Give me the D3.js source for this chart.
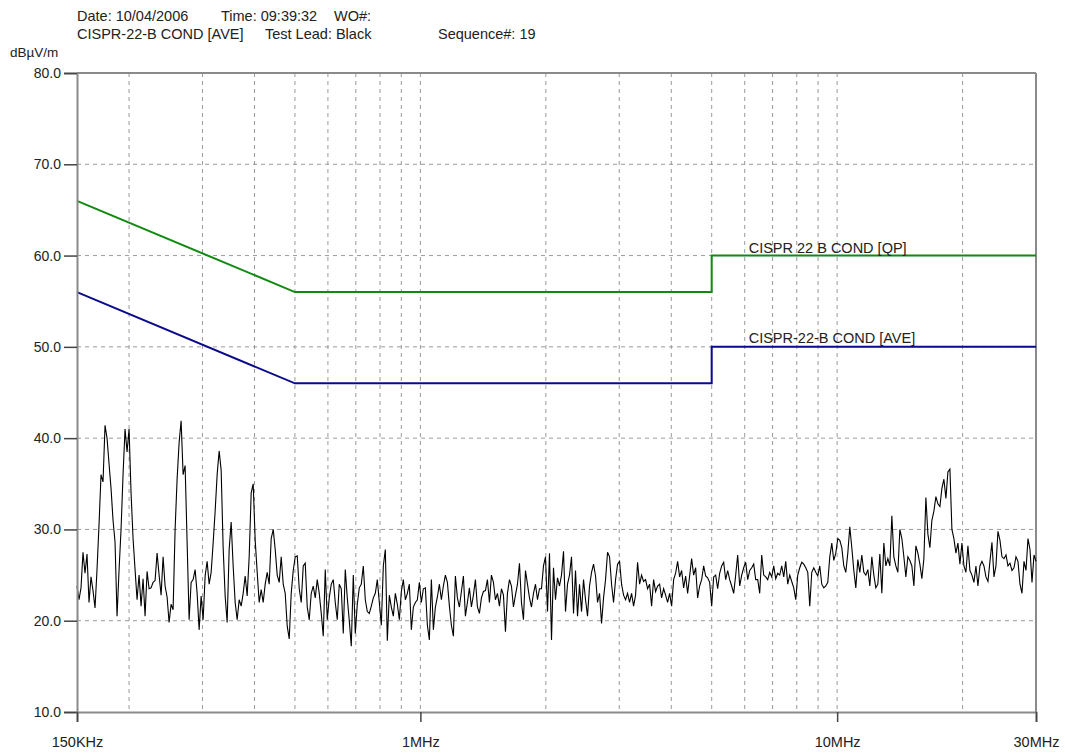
<!DOCTYPE html>
<html>
<head>
<meta charset="utf-8">
<script src="https://cdn.jsdelivr.net/npm/d3@7"></script>
<style>
  html, body { margin: 0; padding: 0; background: #fff; }
  svg { display: block; }
  text { font-family: "Liberation Sans", Arial, sans-serif; fill: #222; }
</style>
</head>
<body>
<svg id="chart" width="1065" height="753"></svg>
<script>
// Sweep settings of the receiver scan (Hz)
const sweepStart = 150e3;
const sweepStop = 30e6;

// Measured average-detector level per sweep point (dBµV)
const traceDb = [
  23.8,22.3,23.6,27.5,25.2,27.3,22.0,24.8,23.3,21.4,25.6,30.5,36.0,35.2,41.4,40.0,37.2,34.5,31.0,28.6,
  20.5,25.5,30.0,36.0,41.0,38.5,41.0,34.0,29.0,25.6,22.3,25.0,21.6,24.6,20.5,25.4,23.5,23.6,24.2,24.4,
  27.4,25.0,22.8,27.0,23.8,22.6,19.8,21.8,21.2,30.0,35.5,39.5,41.9,36.0,37.0,28.6,20.1,24.2,24.5,25.6,
  23.0,19.0,22.7,20.1,24.9,26.5,24.0,25.3,28.5,32.0,36.0,38.6,36.5,28.0,22.7,19.8,27.8,30.8,26.0,22.0,
  20.1,22.3,21.6,23.0,24.9,22.7,27.0,34.0,35.0,28.8,25.3,22.0,23.4,22.0,24.0,25.3,24.0,29.0,30.0,27.8,
  25.0,24.2,27.0,24.0,23.0,19.4,18.0,23.0,25.5,27.0,27.1,23.5,22.0,26.0,26.3,21.5,20.1,23.0,23.8,22.5,
  24.5,23.0,20.8,18.3,25.6,20.1,22.5,24.0,24.5,22.0,20.1,24.0,23.5,18.6,25.6,22.5,20.0,17.2,25.0,18.6,
  21.8,23.6,24.0,26.0,22.3,21.0,20.8,21.6,22.5,23.0,24.5,22.0,19.5,26.0,27.8,17.8,22.8,21.5,20.5,23.0,
  21.8,20.1,23.2,24.5,22.3,23.0,24.0,19.0,21.5,22.0,22.3,24.2,22.0,23.5,23.6,19.5,17.9,24.5,19.0,21.5,
  22.6,24.0,22.3,23.8,25.0,24.2,21.6,19.5,18.3,24.9,22.5,21.5,23.2,24.9,20.5,22.0,23.6,21.5,22.8,24.5,
  21.5,20.8,22.5,23.2,23.3,24.5,22.0,25.0,24.2,22.3,23.0,21.6,23.5,22.8,18.8,23.0,24.5,23.8,21.5,22.8,
  24.0,26.3,22.0,20.1,25.5,24.0,22.5,21.5,23.0,24.0,22.3,23.5,23.5,26.0,27.0,21.0,27.4,17.9,25.8,22.3,
  24.7,23.8,25.0,27.6,21.0,24.0,25.0,27.0,20.8,25.5,20.5,24.0,21.0,24.5,22.3,20.5,23.8,25.3,26.2,24.9,
  22.0,23.0,19.7,22.5,24.5,27.5,27.0,24.0,22.0,24.5,26.2,26.5,24.0,22.8,22.3,23.0,22.0,23.0,21.6,22.8,
  26.4,24.0,25.0,24.3,24.5,23.5,24.0,21.6,24.5,23.2,23.8,24.0,22.5,23.5,22.8,22.0,23.0,21.6,24.5,25.2,
  26.5,24.8,25.5,23.6,24.9,23.0,24.9,26.8,25.0,25.8,22.5,23.8,24.5,26.0,24.9,24.7,24.2,21.6,24.8,25.0,
  23.5,25.2,26.0,26.4,24.5,25.5,24.5,23.8,23.0,25.0,27.2,23.8,25.0,25.8,26.4,24.5,25.5,25.8,26.2,24.5,
  24.5,23.0,27.2,25.0,24.8,24.5,25.3,24.8,26.0,24.6,25.2,25.0,26.0,24.8,26.5,24.0,25.0,24.3,23.6,22.3,
  25.0,25.8,26.4,26.2,25.8,25.3,21.6,25.3,25.8,25.3,24.9,26.0,24.0,23.6,23.8,24.2,27.0,28.5,26.6,27.4,
  29.0,28.8,28.0,26.0,25.3,27.4,30.3,28.0,25.5,23.6,26.7,25.3,27.2,25.3,25.0,25.6,23.8,27.0,25.0,23.6,
  24.0,27.3,23.0,28.5,26.0,26.8,26.0,31.5,27.0,26.0,25.3,30.0,29.0,27.0,24.8,27.0,26.6,26.0,23.8,28.2,
  27.4,26.2,24.6,26.8,33.5,29.5,28.0,31.0,32.0,33.6,32.8,32.5,34.5,35.5,33.4,36.3,36.6,30.0,29.0,27.4,
  28.5,26.2,28.5,26.0,25.3,28.2,25.5,25.0,24.2,26.0,23.8,26.0,26.5,26.0,24.8,24.3,26.5,28.6,24.8,26.0,
  29.8,28.8,27.0,26.8,27.2,26.0,26.3,25.5,25.8,27.0,26.5,24.0,23.0,26.5,25.5,29.0,27.8,24.2,27.2,26.5
];

// Limit lines: corner frequencies (MHz) and levels (dBµV)
const limitFreqMHz = [0.15, 0.5, 5, 5, 30];
const qpLimit = [66, 56, 56, 60, 60];
const aveLimit = [56, 46, 46, 50, 50];
const limitNames = ["CISPR 22 B COND [QP]", "CISPR-22-B COND [AVE]"];

// Axis ticks
const yTicks = [10, 20, 30, 40, 50, 60, 70, 80];
const xTickMHz = [0.15, 1, 10, 30];
const xTickLabels = ["150KHz", "1MHz", "10MHz", "30MHz"];
const xGridMHz = [0.2, 0.3, 0.4, 0.5, 0.6, 0.7, 0.8, 0.9, 1, 2, 3, 4, 5, 6, 7, 8, 9, 10, 20];
const yGrid = [20, 30, 40, 50, 60, 70];

// Header lines
const headerRow1 = [["Date: 10/04/2006", 77], ["Time: 09:39:32", 221], ["WO#:", 334]];
const headerRow2 = [["CISPR-22-B COND [AVE]", 77], ["Test Lead: Black", 265], ["Sequence#:  19", 438]];

const svg = d3.select("#chart");
const plotL = 77, plotR = 1036, plotT = 73, plotB = 712;
const fontSize = 14.5;

const x = d3.scaleLog().domain([sweepStart, sweepStop]).range([plotL, plotR]);
const y = d3.scaleLinear().domain([10, 80]).range([plotB, plotT]);

const gridColor = "#9a9a9a";
const frameColor = "#8a8a8a";

// Dashed grid
svg.append("g").selectAll("line").data(xGridMHz).join("line")
  .attr("x1", d => x(d * 1e6)).attr("x2", d => x(d * 1e6))
  .attr("y1", plotT).attr("y2", plotB)
  .attr("stroke", gridColor).attr("stroke-width", 1).attr("stroke-dasharray", "4,4");
svg.append("g").selectAll("line").data(yGrid).join("line")
  .attr("x1", plotL).attr("x2", plotR)
  .attr("y1", d => y(d)).attr("y2", d => y(d))
  .attr("stroke", gridColor).attr("stroke-width", 1).attr("stroke-dasharray", "4,4");

// Frame: top and right edges
svg.append("line").attr("x1", plotL).attr("x2", plotR).attr("y1", plotT).attr("y2", plotT)
  .attr("stroke", frameColor).attr("stroke-width", 2);
svg.append("line").attr("x1", plotR).attr("x2", plotR).attr("y1", plotT).attr("y2", plotB)
  .attr("stroke", frameColor).attr("stroke-width", 2);

// Limit lines
const limitLine = d3.line().x(d => x(d[0] * 1e6)).y(d => y(d[1]));
svg.append("path").datum(limitFreqMHz.map((f, i) => [f, qpLimit[i]]))
  .attr("d", limitLine).attr("fill", "none").attr("stroke", "#108a10").attr("stroke-width", 2);
svg.append("path").datum(limitFreqMHz.map((f, i) => [f, aveLimit[i]]))
  .attr("d", limitLine).attr("fill", "none").attr("stroke", "#0a0a8c").attr("stroke-width", 2);

// Measured trace
const nPts = traceDb.length;
const ratio = sweepStop / sweepStart;
const traceLine = d3.line()
  .x((d, i) => x(sweepStart * Math.pow(ratio, i / (nPts - 1))))
  .y(d => y(d));
svg.append("path").datum(traceDb).attr("d", traceLine)
  .attr("fill", "none").attr("stroke", "#000").attr("stroke-width", 1.1);

// Limit labels
svg.append("text").attr("x", x(limitFreqMHz[2] * 1e6) + 37).attr("y", y(qpLimit[3]) - 3)
  .attr("font-size", fontSize).text(limitNames[0]);
svg.append("text").attr("x", x(limitFreqMHz[2] * 1e6) + 37).attr("y", y(aveLimit[3]) - 4)
  .attr("font-size", fontSize).text(limitNames[1]);

// Y axis
const yAxis = svg.append("g").attr("transform", `translate(${plotL},0)`)
  .call(d3.axisLeft(y).tickValues(yTicks).tickFormat(d3.format(".1f")).tickSize(13).tickPadding(3));
yAxis.select(".domain").attr("stroke", frameColor).attr("stroke-width", 2);
yAxis.selectAll(".tick line").attr("stroke", "#444").attr("stroke-width", 1.5);
yAxis.selectAll("text").attr("font-size", 14).attr("font-family", "Liberation Sans, Arial, sans-serif").attr("fill", "#222");

// X axis
const xAxis = svg.append("g").attr("transform", `translate(0,${plotB})`)
  .call(d3.axisBottom(x).tickValues(xTickMHz.map(d => d * 1e6))
    .tickFormat((d, i) => xTickLabels[i]).tickSize(10).tickPadding(15));
xAxis.select(".domain").attr("stroke", frameColor).attr("stroke-width", 2);
xAxis.selectAll(".tick line").attr("stroke", "#444").attr("stroke-width", 1.5);
xAxis.selectAll("text").attr("font-size", fontSize).attr("font-family", "Liberation Sans, Arial, sans-serif").attr("fill", "#222");

// Unit label
svg.append("text").attr("x", 10).attr("y", 57).attr("font-size", 13.5).text("dBµV/m");

// Header
svg.append("g").selectAll("text").data(headerRow1).join("text")
  .attr("x", d => d[1]).attr("y", 21).attr("font-size", fontSize).text(d => d[0]);
svg.append("g").selectAll("text").data(headerRow2).join("text")
  .attr("x", d => d[1]).attr("y", 39).attr("font-size", fontSize).text(d => d[0]);
</script>
</body>
</html>
